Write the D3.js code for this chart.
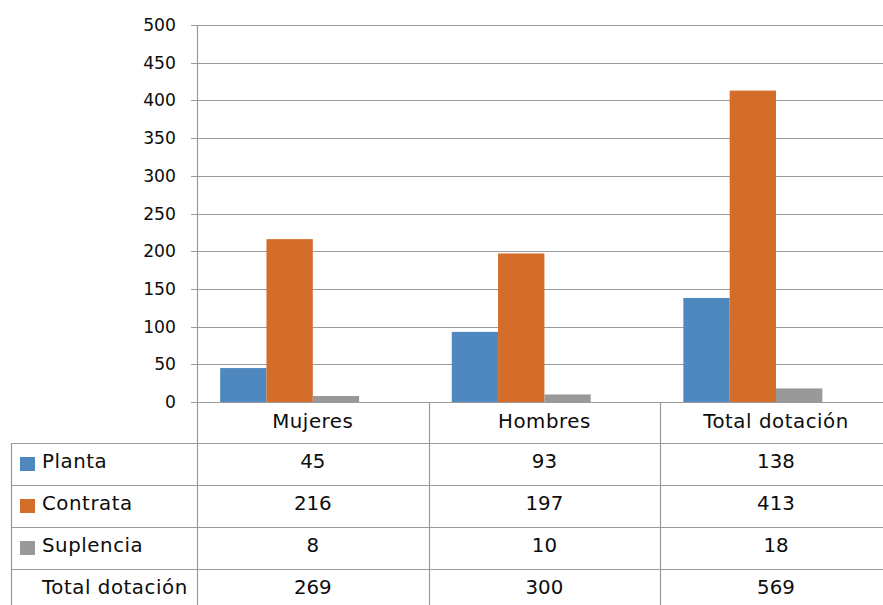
<!DOCTYPE html>
<html>
<head>
<meta charset="utf-8">
<script src="https://cdn.jsdelivr.net/npm/d3@7"></script>
<style>
html, body { margin: 0; padding: 0; background: #fff; overflow: hidden; }
svg { display: block; font-family: "DejaVu Sans", Verdana, sans-serif; }
</style>
</head>
<body>
<svg id="chart" width="883" height="605"></svg>
<script>
const categories = ["Mujeres", "Hombres", "Total dotación"];
const seriesNames = ["Planta", "Contrata", "Suplencia", "Total dotación"];
const planta = [45, 93, 138];
const contrata = [216, 197, 413];
const suplencia = [8, 10, 18];
const totalDotacion = [269, 300, 569];
const yTicks = [0, 50, 100, 150, 200, 250, 300, 350, 400, 450, 500];
const colors = ["#4F88BE", "#D46C2A", "#999999", "none"];

const seriesValues = [planta, contrata, suplencia, totalDotacion];
const plotted = [true, true, true, false];

(function () {
const svg = d3.select("#chart");
const W = 883;
const plotLeft = 197, plotTop = 25, plotBottom = 402;
const colW = 231.6;
const tableLeft = 11;
const headerBottom = 443;
const rowH = 42;
const gridColor = "#9a9a9a";
const axisFont = 17.2;
const tableFont = 19.8;
const textColor = "#0d0d0d";
const wordSpacing = 0.55;

const x0 = d3.scaleBand().domain(categories).range([plotLeft, plotLeft + colW * categories.length]).padding(0);
const x1 = d3.scaleBand().domain(seriesNames).range([0, x0.bandwidth()]).paddingInner(0).paddingOuter(0.5);
const y = d3.scaleLinear().domain([0, 500]).range([plotBottom, plotTop]);

// gridlines
svg.append("g").selectAll("line").data(yTicks.filter(t => t > 0)).join("line")
  .attr("x1", plotLeft - 6).attr("x2", W)
  .attr("y1", d => Math.round(y(d)) + 0.5).attr("y2", d => Math.round(y(d)) + 0.5)
  .attr("stroke", gridColor).attr("stroke-width", 1);

// bars
const groups = svg.append("g").selectAll("g").data(categories).join("g")
  .attr("transform", d => `translate(${x0(d)},0)`);
groups.selectAll("rect")
  .data((c, ci) => seriesNames.map((s, si) => ({ s, si, v: seriesValues[si][ci] })).filter(d => plotted[d.si]))
  .join("rect")
  .attr("x", d => x1(d.s))
  .attr("width", x1.bandwidth())
  .attr("y", d => y(d.v))
  .attr("height", d => y(0) - y(d.v))
  .attr("fill", d => colors[d.si]);

// y axis labels
svg.append("g").selectAll("text").data(yTicks).join("text")
  .attr("x", 176).attr("y", d => y(d)).attr("dy", "0.35em")
  .attr("text-anchor", "end").attr("font-size", axisFont).attr("fill", textColor)
  .text(d => d);

// axis line & baseline
svg.append("line").attr("x1", plotLeft + 0.5).attr("x2", plotLeft + 0.5).attr("y1", plotTop).attr("y2", 605)
  .attr("stroke", gridColor).attr("stroke-width", 1.2);
svg.append("line").attr("x1", plotLeft - 6).attr("x2", W).attr("y1", plotBottom + 0.5).attr("y2", plotBottom + 0.5)
  .attr("stroke", gridColor).attr("stroke-width", 1.2);

// table
const tbl = svg.append("g");
tbl.selectAll("text.hdr").data(categories).join("text").attr("class", "hdr")
  .attr("x", d => x0(d) + x0.bandwidth() / 2).attr("y", (plotBottom + headerBottom) / 2).attr("dy", "0.3em")
  .attr("text-anchor", "middle").attr("font-size", tableFont).attr("letter-spacing", wordSpacing)
  .attr("fill", textColor).text(d => d);
tbl.selectAll("line.vd").data(categories.slice(1)).join("line").attr("class", "vd")
  .attr("x1", d => Math.round(x0(d)) + 0.5).attr("x2", d => Math.round(x0(d)) + 0.5)
  .attr("y1", plotBottom).attr("y2", 605).attr("stroke", gridColor).attr("stroke-width", 1.2);
tbl.append("line").attr("x1", tableLeft + 0.5).attr("x2", tableLeft + 0.5)
  .attr("y1", headerBottom).attr("y2", 605).attr("stroke", gridColor).attr("stroke-width", 1.2);
const rowTops = seriesNames.map((s, i) => headerBottom + i * rowH);
tbl.selectAll("line.hr").data(rowTops).join("line").attr("class", "hr")
  .attr("x1", tableLeft).attr("x2", W)
  .attr("y1", d => d + 0.5).attr("y2", d => d + 0.5)
  .attr("stroke", gridColor).attr("stroke-width", 1.2);
const rows = tbl.selectAll("g.row").data(seriesNames).join("g").attr("class", "row")
  .attr("transform", (d, i) => `translate(0,${headerBottom + i * rowH})`);
rows.filter((d, i) => plotted[i]).append("rect")
  .attr("x", 20).attr("y", 14).attr("width", 15).attr("height", 14)
  .attr("fill", d => colors[seriesNames.indexOf(d)]);
rows.append("text").attr("x", 42).attr("y", rowH / 2).attr("dy", "0.18em")
  .attr("font-size", tableFont).attr("letter-spacing", wordSpacing).attr("fill", textColor).text(d => d);
rows.each(function (s, si) {
  d3.select(this).selectAll("text.val").data(seriesValues[si]).join("text").attr("class", "val")
    .attr("x", (v, ci) => x0(categories[ci]) + x0.bandwidth() / 2)
    .attr("y", rowH / 2).attr("dy", "0.18em")
    .attr("text-anchor", "middle").attr("font-size", tableFont).attr("fill", textColor)
    .text(v => v);
});
})();
</script>
</body>
</html>
